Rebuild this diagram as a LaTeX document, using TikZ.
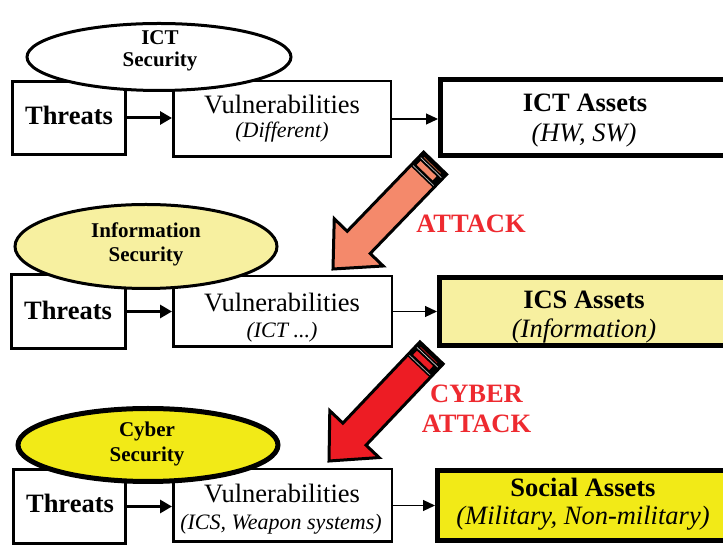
\documentclass[tikz,border=0pt]{standalone}
\usepackage{fontspec}
\setmainfont{Liberation Serif}
\usetikzlibrary{arrows.meta,shapes.geometric}

\definecolor{attackorange}{HTML}{F4896B}
\definecolor{attackorangedark}{HTML}{A4502F}
\definecolor{attackred}{HTML}{ED1C24}
\definecolor{attackreddark}{HTML}{9B1015}
\definecolor{labelred}{HTML}{EE2A30}
\definecolor{paleyellow}{HTML}{F7F0A0}
\definecolor{brightyellow}{HTML}{F2EA17}

% Block arrow with a striped cap at its tail.
% #1 tip, #2 direction (tip -> tail), #3 length, #4 fill, #5 stripe colour
\newcommand{\drawattackarrow}[5]{%
  \begin{scope}[shift={#1}, rotate=#2]
    \fill[#4] (0,0) -- (37,34) -- (37,16) -- (#3,16) -- (#3,-16)
      -- (37,-16) -- (37,-34) -- cycle;
    \fill[black] (#3-19,-16) rectangle (#3,16);
    \draw[gray!70, line width=0.8] (#3-17,-16) -- (#3-17,16);
    \fill[#4] (#3-14,-10) rectangle (#3-8.5,12);
    \draw[gray!40, line width=0.7] (#3-6,-15) -- (#3-6,15);
    \draw[#5, line width=0.9] (#3-3.5,-11) -- (#3-3.5,12);
    \draw[black, line width=3, line join=miter, miter limit=10]
      (0,0) -- (37,34) -- (37,16) -- (#3,16) -- (#3,-16)
      -- (37,-16) -- (37,-34) -- cycle;
  \end{scope}}

\begin{document}
\begin{tikzpicture}[x=1pt, y=1pt,
  threatbox/.style={draw=black, rectangle, line width=3pt, inner sep=0pt, fill=white},
  vulbox/.style={draw=black, rectangle, line width=2.5pt, inner sep=0pt, fill=white},
  assetbox/.style={draw=black, rectangle, line width=5pt, inner sep=0pt},
  secellipse/.style={draw=black, ellipse, inner sep=0pt},
  txt/.style={anchor=base, inner sep=0pt},
  bigbold/.style={txt, font=\fontsize{26.5}{30}\selectfont\bfseries},
  vultext/.style={txt, font=\fontsize{26.5}{30}\selectfont},
  vulnote/.style={txt, font=\fontsize{22}{26}\selectfont\itshape},
  assetnote/.style={txt, font=\fontsize{26.5}{30}\selectfont\itshape},
  ellbold/.style={txt, font=\fontsize{21}{24}\selectfont\bfseries},
  attacktext/.style={txt, font=\fontsize{26.5}{30}\selectfont\bfseries, text=labelred},
  thickflow/.style={line width=3pt, -{Triangle[length=12pt, width=13pt]}},
  thinflow/.style={line width=1.2pt, -{Triangle[length=12pt, width=11pt]}}
]
\clip (0,0) rectangle (723,546);
\fill[white] (0,0) rectangle (723,546);

% ---- ICT security row ----
\node[threatbox, minimum width=113, minimum height=73] (t1) at (69,428) {};
\node[vulbox, minimum width=217.5, minimum height=75.5] (v1) at (282,427) {};
\node[assetbox, fill=white, minimum width=337, minimum height=76] (a1) at (609,428.5) {};
\draw[thickflow] (t1.east) -- (t1.east -| v1.west);
\draw[thinflow] (v1.east) -- (v1.east -| a1.west);
\node[secellipse, line width=3pt, fill=white, minimum width=264, minimum height=67] (e1) at (159,489) {};

\node[bigbold] (t1l) at (69,421) {Threats};
\node[vultext] (v1l) at (282,432) {Vulnerabilities};
\node[vulnote] (v1n) at (282,408) {(Different)};
\node[bigbold] (a1l) at (585,434) {ICT Assets};
\node[assetnote] (a1n) at (584,404) {(HW, SW)};
\node[ellbold] (e1a) at (160,501) {ICT};
\node[ellbold] (e1b) at (160,479) {Security};

% ---- Information security row ----
\node[threatbox, minimum width=114, minimum height=74] (t2) at (68.5,234.5) {};
\node[vulbox, minimum width=218.5, minimum height=70.5] (v2) at (282.5,234.5) {};
\node[assetbox, fill=paleyellow, minimum width=339, minimum height=68] (a2) at (609,234.5) {};
\draw[thickflow] (t2.east) -- (t2.east -| v2.west);
\draw[thinflow] (v2.east) -- (v2.east -| a2.west);
\node[secellipse, line width=3pt, fill=paleyellow, minimum width=262, minimum height=84] (e2) at (146,299.5) {};

\node[bigbold] (t2l) at (68,226) {Threats};
\node[vultext] (v2l) at (282,234) {Vulnerabilities};
\node[vulnote] (v2n) at (282,208) {(ICT ...)};
\node[bigbold] (a2l) at (584,237) {ICS Assets};
\node[assetnote] (a2n) at (584,208) {(Information)};
\node[ellbold] (e2a) at (146,308) {Information};
\node[ellbold] (e2b) at (146,284) {Security};

% ---- Cyber security row ----
\node[threatbox, minimum width=112, minimum height=74] (t3) at (69.5,39.5) {};
\node[vulbox, minimum width=218.5, minimum height=72.5] (v3) at (282.5,40.5) {};
\node[assetbox, fill=brightyellow, minimum width=343, minimum height=70] (a3) at (609,40.5) {};
\draw[thickflow] (t3.east) -- (t3.east -| v3.west);
\draw[thinflow] (v3.east) -- (v3.east -| a3.west);
\node[secellipse, line width=5pt, fill=brightyellow, minimum width=260, minimum height=73] (e3) at (148,101) {};

\node[bigbold] (t3l) at (70,33) {Threats};
\node[vultext] (v3l) at (282,43) {Vulnerabilities};
\node[vulnote] (v3n) at (281,16) {(ICS, Weapon systems)};
\node[bigbold] (a3l) at (583,49) {Social Assets};
\node[assetnote] (a3n) at (583,21) {(Military, Non-military)};
\node[ellbold] (e3a) at (147,109) {Cyber};
\node[ellbold] (e3b) at (147,84) {Security};

% ---- attack arrows ----
\drawattackarrow{(333,277)}{46}{147}{attackorange}{attackorangedark}
\drawattackarrow{(329,85)}{46.5}{149}{attackred}{attackreddark}

\node[attacktext] (atk1) at (471,313) {ATTACK};
\node[attacktext] (atk2a) at (476.5,143) {CYBER};
\node[attacktext] (atk2b) at (476.5,113) {ATTACK};
\end{tikzpicture}
\end{document}
